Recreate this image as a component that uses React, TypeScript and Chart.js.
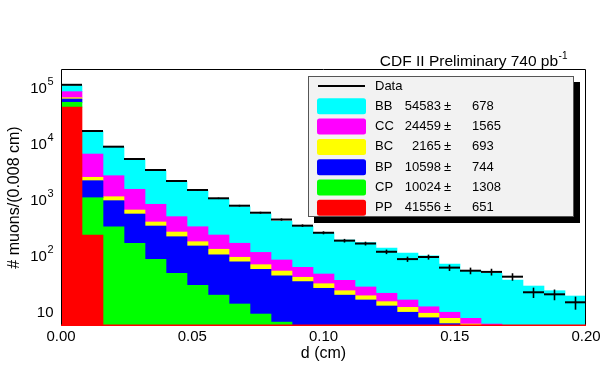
import React, { useEffect, useRef } from "react";
import { Chart, registerables } from "chart.js";

Chart.register(...registerables);

// ---------- data ----------
const BIN_WIDTH = 0.008;
const binCenters = [
  0.004, 0.012, 0.02, 0.028, 0.036, 0.044, 0.052, 0.06, 0.068, 0.076, 0.084, 0.092, 0.1,
  0.108, 0.116, 0.124, 0.132, 0.14, 0.148, 0.156, 0.164, 0.172, 0.18, 0.188, 0.196,
];

// stacked components (bottom -> top)
const ppCounts = [45800, 237, 0, 0, 0, 0, 0, 0, 0, 0, 0, 0, 0, 0, 0, 0, 0, 0, 0, 0, 0, 0, 0, 0, 0];
const cpCounts = [9800, 862, 333, 169, 87, 49, 30, 20, 13.9, 9.2, 6.6, 0, 0, 0, 0, 0, 0, 0, 0, 0, 0, 0, 0, 0, 0];
const bpCounts = [8000, 1114, 640, 393, 256, 172, 121, 85, 65, 48.6, 37.8, 34.8, 26.5, 20, 16.4, 12.8, 9.9, 7.9, 6.2, 4.5, 3.5, 0, 0, 0, 0];
const bcCounts = [3500, 330, 172, 101, 62, 47, 29, 27, 16, 12.2, 9.5, 6.9, 5.5, 4, 3.1, 2.5, 2.2, 1.6, 1.5, 1.6, 1.2, 0, 0, 0, 0];
const ccCounts = [18900, 4077, 1571, 890, 433, 236, 153, 105, 74, 46, 31, 21.1, 15.7, 12.8, 8.5, 6.3, 4.3, 2.9, 2.2, 1.6, 1.4, 0, 0, 0, 0];
const bbCounts = [24000, 10180, 6084, 3697, 2497, 1619, 1133, 805, 590, 454, 335, 277, 214, 156, 145, 117, 96, 88, 62, 48, 43, 37.3, 29.1, 24, 19.3];

const dataCounts = [114000, 17070, 8950, 5400, 3435, 2183, 1510, 1072, 791, 593, 448, 348, 260, 188, 167, 119, 88, 96, 62, 54.6, 52, 42.7, 22.5, 20.7, 14.9];
const dataErrors = [338, 131, 95, 73, 59, 47, 39, 33, 28, 24, 21, 19, 16, 14, 13, 11, 9.4, 9.8, 7.9, 7.4, 7.2, 6.5, 4.7, 4.5, 3.9];

const xTicks = [0, 0.05, 0.1, 0.15, 0.2];
const yTicks = [10, 100, 1000, 10000, 100000];
const yTickSup = ["", "2", "3", "4", "5"];

const legendNames = ["BB", "CC", "BC", "BP", "CP", "PP"];
const legendYields = ["54583", "24459", "2165", "10598", "10024", "41556"];
const legendErrors = ["678", "1565", "693", "744", "1308", "651"];
const legendColors = ["#00ffff", "#ff00ff", "#ffff00", "#0000ff", "#00ff00", "#ff0000"];

const titleText = "CDF II Preliminary 740 pb";
const titleSup = "-1";
const xTitle = "d (cm)";
const yTitle = "# muons/(0.008 cm)";

const FONT = "'Liberation Sans', Arial, Helvetica, sans-serif";

const overlay = {
  id: "overlay",
  afterDatasetsDraw(chart: any) {
    const { ctx, scales } = chart;
    const x = scales.x;
    const y = scales.y;
    ctx.save();
    ctx.strokeStyle = "#000";
    for (let i = 0; i < dataCounts.length; i++) {
      const x0 = x.getPixelForValue(binCenters[i] - BIN_WIDTH / 2);
      const x1 = x.getPixelForValue(binCenters[i] + BIN_WIDTH / 2);
      const xc = x.getPixelForValue(binCenters[i]);
      const yv = y.getPixelForValue(dataCounts[i]);
      ctx.lineWidth = 2;
      ctx.beginPath();
      ctx.moveTo(x0, yv);
      ctx.lineTo(x1, yv);
      ctx.stroke();
      const ylo = y.getPixelForValue(Math.max(dataCounts[i] - dataErrors[i], 1e-3));
      const yhi = y.getPixelForValue(dataCounts[i] + dataErrors[i]);
      ctx.lineWidth = 1.6;
      ctx.beginPath();
      ctx.moveTo(xc, ylo);
      ctx.lineTo(xc, yhi);
      ctx.stroke();
    }
    ctx.restore();
  },
  afterDraw(chart: any) {
    const { ctx, chartArea: a, scales } = chart;
    const x = scales.x;
    const y = scales.y;
    ctx.save();

    // frame
    ctx.strokeStyle = "#000";
    ctx.lineWidth = 1;
    ctx.beginPath();
    ctx.moveTo(a.left + 0.5, a.bottom);
    ctx.lineTo(a.left + 0.5, a.top + 0.5);
    ctx.lineTo(a.right - 0.5, a.top + 0.5);
    ctx.lineTo(a.right - 0.5, a.bottom);
    ctx.stroke();
    ctx.strokeStyle = "#ff0000";
    ctx.lineWidth = 1.5;
    ctx.beginPath();
    ctx.moveTo(a.left, a.bottom - 0.75);
    ctx.lineTo(a.right, a.bottom - 0.75);
    ctx.stroke();

    // x tick labels
    ctx.fillStyle = "#000";
    ctx.font = `15px ${FONT}`;
    ctx.textAlign = "center";
    ctx.textBaseline = "middle";
    for (const t of xTicks) {
      ctx.fillText(t.toFixed(2), x.getPixelForValue(t), 337);
    }
    // y tick labels
    for (let i = 0; i < yTicks.length; i++) {
      const py = y.getPixelForValue(yTicks[i]);
      const sup = yTickSup[i];
      const right = 53.5;
      ctx.font = `11px ${FONT}`;
      const sw = sup ? ctx.measureText(sup).width + 0.5 : 0;
      ctx.font = `15px ${FONT}`;
      ctx.textAlign = "right";
      ctx.textBaseline = "middle";
      ctx.fillText("10", right - sw, py + 1);
      if (sup) {
        ctx.font = `11px ${FONT}`;
        ctx.textAlign = "left";
        ctx.fillText(sup, right - sw + 0.5, py - 6);
      }
    }

    // axis titles
    ctx.font = `16px ${FONT}`;
    ctx.textAlign = "center";
    ctx.textBaseline = "middle";
    ctx.fillText(xTitle, (a.left + a.right) / 2, 354);
    ctx.save();
    ctx.translate(15, (a.top + a.bottom) / 2);
    ctx.rotate(-Math.PI / 2);
    ctx.fillText(yTitle, 0, 0);
    ctx.restore();

    // title
    ctx.font = `10px ${FONT}`;
    const supW = ctx.measureText(titleSup).width;
    const titleRight = 567 - supW;
    ctx.font = `15.5px ${FONT}`;
    ctx.textAlign = "right";
    ctx.textBaseline = "alphabetic";
    ctx.fillText(titleText, titleRight, 66);
    ctx.font = `10px ${FONT}`;
    ctx.textAlign = "left";
    ctx.fillText(titleSup, titleRight + 0.5, 59);

    // legend
    const bx = 308, by = 76, bw = 266, bh = 141;
    ctx.fillStyle = "#000";
    ctx.fillRect(bx + 6, by + 6, bw, bh);
    ctx.fillStyle = "#f2f2f2";
    ctx.fillRect(bx, by, bw, bh);
    ctx.strokeStyle = "#555";
    ctx.lineWidth = 1;
    ctx.strokeRect(bx + 0.5, by + 0.5, bw - 1, bh - 1);

    const rowY = (k: number) => 86 + 20.3 * k;
    ctx.strokeStyle = "#000";
    ctx.lineWidth = 2;
    ctx.beginPath();
    ctx.moveTo(318, rowY(0));
    ctx.lineTo(365, rowY(0));
    ctx.stroke();
    ctx.fillStyle = "#000";
    ctx.font = `13px ${FONT}`;
    ctx.textBaseline = "middle";
    ctx.textAlign = "left";
    ctx.fillText("Data", 375, rowY(0));
    for (let k = 0; k < legendNames.length; k++) {
      const cy = rowY(k + 1);
      ctx.fillStyle = legendColors[k];
      ctx.beginPath();
      (ctx as any).roundRect ? (ctx as any).roundRect(317, cy - 8, 49, 16, 2.5) : ctx.rect(317, cy - 8, 49, 16);
      ctx.fill();
      ctx.fillStyle = "#000";
      ctx.textAlign = "left";
      ctx.fillText(legendNames[k], 375, cy);
      ctx.textAlign = "right";
      ctx.fillText(legendYields[k], 441, cy);
      ctx.textAlign = "left";
      ctx.fillText("\u00b1", 444, cy);
      ctx.fillText(legendErrors[k], 472, cy);
    }
    ctx.restore();
  },
};

export default function App() {
  const ref = useRef<HTMLCanvasElement | null>(null);
  useEffect(() => {
    if (!ref.current) return;
    const mk = (label: string, arr: number[], color: string) => ({
      label,
      data: arr.map((v, i) => ({ x: binCenters[i], y: v })),
      backgroundColor: color,
      borderWidth: 0,
      barPercentage: 1,
      categoryPercentage: 1,
      clip: 0,
    });
    const chart = new Chart(ref.current, {
      type: "bar",
      data: {
        datasets: [
          mk("PP", ppCounts, "#ff0000"),
          mk("CP", cpCounts, "#00ff00"),
          mk("BP", bpCounts, "#0000ff"),
          mk("BC", bcCounts, "#ffff00"),
          mk("CC", ccCounts, "#ff00ff"),
          mk("BB", bbCounts, "#00ffff"),
        ] as any,
      },
      options: {
        responsive: false,
        animation: false,
        devicePixelRatio: 1,
        layout: { padding: { left: 61, right: 14, top: 69, bottom: 49 } },
        plugins: { legend: { display: false }, tooltip: { enabled: false } },
        scales: {
          x: {
            type: "linear",
            min: 0,
            max: 0.2,
            offset: false,
            stacked: true,
            display: false,
            ticks: { stepSize: 0.05 },
          },
          y: {
            type: "logarithmic",
            min: 5.623,
            max: 218300,
            stacked: true,
            display: false,
          },
        },
      } as any,
      plugins: [overlay],
    });
    return () => chart.destroy();
  }, []);
  return (
    <div style={{ position: "fixed", left: 0, top: 0, width: 600, height: 375, background: "#fff" }}>
      <canvas ref={ref} width={600} height={375} style={{ width: 600, height: 375, display: "block" }} />
    </div>
  );
}
